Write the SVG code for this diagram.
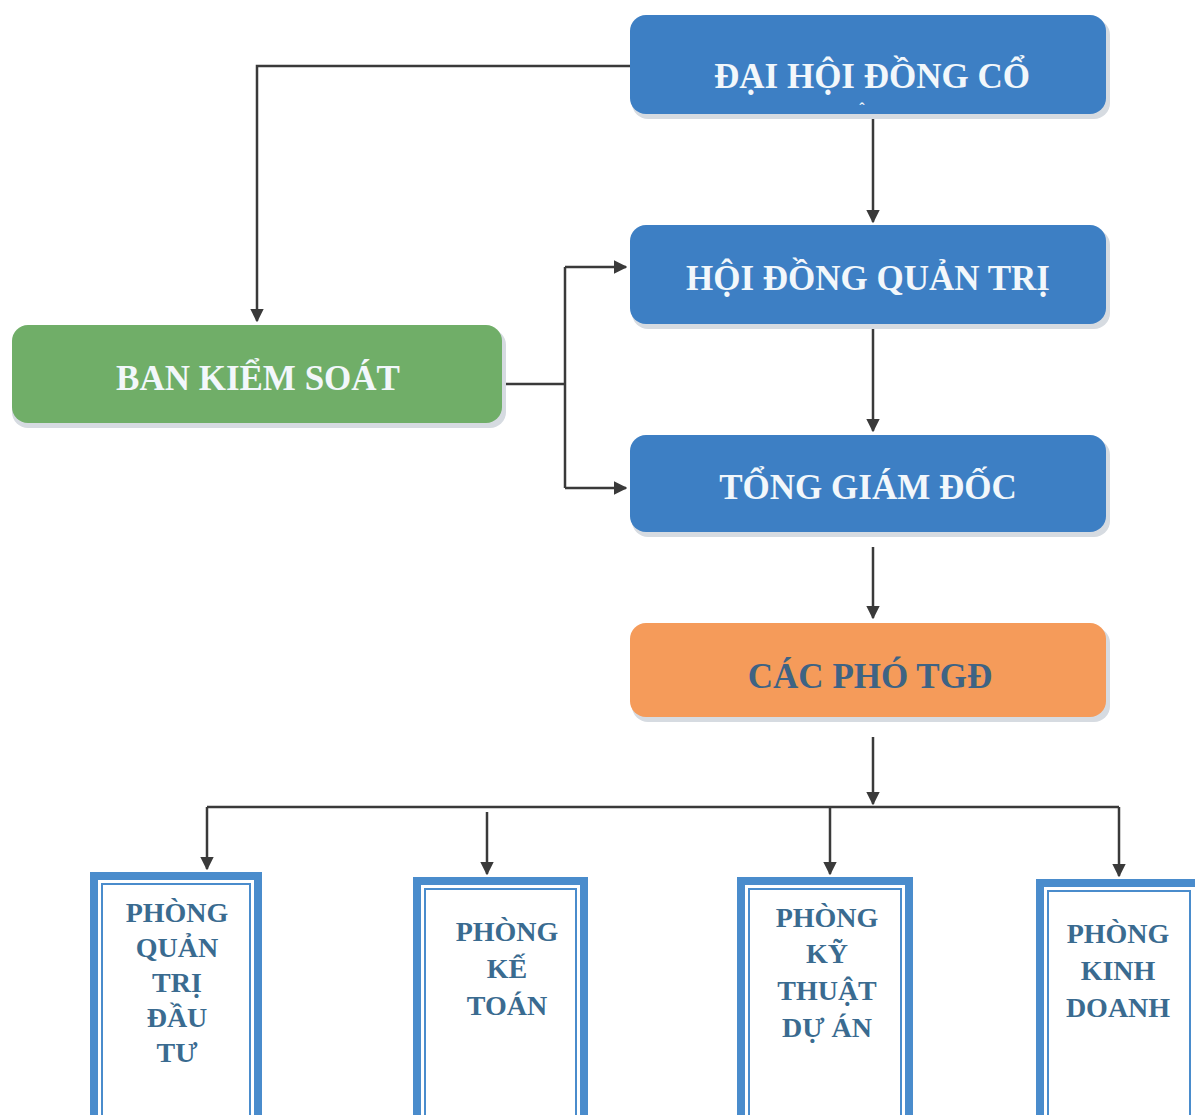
<svg xmlns="http://www.w3.org/2000/svg" width="1195" height="1115" viewBox="0 0 1195 1115">
<defs>
<style>
.t{font-family:"Liberation Serif","Times New Roman",serif;font-weight:bold;text-anchor:middle}
.w{fill:#f2f7fb;font-size:35px}
.o{fill:#3e6384;font-size:35px}
.d{fill:#3a6b90;font-size:28px}
.sh{fill:#d6dbe1}
.blue{fill:#3d7fc4}
.green{fill:#70ae68}
.orange{fill:#f59b5a}
.c{fill:none;stroke:#3a3a3a;stroke-width:2.5}
.ob{fill:#ffffff;stroke:#4a8ccc;stroke-width:8}
.ib{fill:none;stroke:#4a8ccc;stroke-width:2}
</style>
<marker id="ar" viewBox="0 0 10 10" refX="9" refY="5" markerWidth="5.5" markerHeight="5.5" orient="auto" markerUnits="strokeWidth">
<path d="M0,0 L10,5 L0,10 z" fill="#3a3a3a"/>
</marker>
</defs>
<rect width="1195" height="1115" fill="#ffffff"/>

<g id="connectors">
<path class="c" d="M630,66 H257 V321" marker-end="url(#ar)"/>
<path class="c" d="M873,118 V222" marker-end="url(#ar)"/>
<path class="c" d="M873,328 V431" marker-end="url(#ar)"/>
<path class="c" d="M503,384 H565"/>
<path class="c" d="M565,267 V488"/>
<path class="c" d="M565,267 H626" marker-end="url(#ar)"/>
<path class="c" d="M565,488 H626" marker-end="url(#ar)"/>
<path class="c" d="M873,547 V618" marker-end="url(#ar)"/>
<path class="c" d="M873,737 V804" marker-end="url(#ar)"/>
<path class="c" d="M207,807 H1119"/>
<path class="c" d="M207,807 V869" marker-end="url(#ar)"/>
<path class="c" d="M487,812 V874" marker-end="url(#ar)"/>
<path class="c" d="M830,808 V874" marker-end="url(#ar)"/>
<path class="c" d="M1119,807 V876" marker-end="url(#ar)"/>
</g>

<g id="n-dhdcd">
<rect class="sh" x="632" y="19" width="478" height="100" rx="16"/>
<rect class="blue" x="630" y="15" width="476" height="99" rx="16"/>
<text class="t w" x="872" y="88">ĐẠI HỘI ĐỒNG CỔ</text>
<text class="t w" x="862" y="114" style="font-size:16px">ˆ</text>
</g>

<g id="n-hdqt">
<rect class="sh" x="632" y="229" width="478" height="100" rx="16"/>
<rect class="blue" x="630" y="225" width="476" height="99" rx="16"/>
<text class="t w" x="868" y="290">HỘI ĐỒNG QUẢN TRỊ</text>
</g>

<g id="n-bks">
<rect class="sh" x="12" y="329" width="494" height="99" rx="16"/>
<rect class="green" x="12" y="325" width="490" height="98" rx="16"/>
<text class="t w" x="258" y="390">BAN KIỂM SOÁT</text>
</g>

<g id="n-tgd">
<rect class="sh" x="632" y="439" width="478" height="98" rx="16"/>
<rect class="blue" x="630" y="435" width="476" height="97" rx="16"/>
<text class="t w" x="868" y="499">TỔNG GIÁM ĐỐC</text>
</g>

<g id="n-pho">
<rect class="sh" x="632" y="627" width="478" height="95" rx="16"/>
<rect class="orange" x="630" y="623" width="476" height="94" rx="16"/>
<text class="t o" x="870" y="688">CÁC PHÓ TGĐ</text>
</g>

<g id="n-qtdt">
<rect class="ob" x="94" y="876" width="164" height="250"/>
<rect class="ib" x="102" y="884" width="148" height="234"/>
<text class="t d" x="177" y="922">PHÒNG</text>
<text class="t d" x="177" y="957">QUẢN</text>
<text class="t d" x="177" y="992">TRỊ</text>
<text class="t d" x="177" y="1027">ĐẦU</text>
<text class="t d" x="177" y="1062">TƯ</text>
</g>

<g id="n-kt">
<rect class="ob" x="417" y="881" width="167" height="245"/>
<rect class="ib" x="425" y="889" width="151" height="229"/>
<text class="t d" x="507" y="941">PHÒNG</text>
<text class="t d" x="507" y="978">KẾ</text>
<text class="t d" x="507" y="1015">TOÁN</text>
</g>

<g id="n-ktda">
<rect class="ob" x="741" y="881" width="168" height="245"/>
<rect class="ib" x="749" y="889" width="152" height="229"/>
<text class="t d" x="827" y="927">PHÒNG</text>
<text class="t d" x="827" y="963">KỸ</text>
<text class="t d" x="827" y="1000">THUẬT</text>
<text class="t d" x="827" y="1037">DỰ ÁN</text>
</g>

<g id="n-kd">
<rect class="ob" x="1040" y="883" width="160" height="242"/>
<rect class="ib" x="1048" y="891" width="142" height="226"/>
<text class="t d" x="1118" y="943">PHÒNG</text>
<text class="t d" x="1118" y="980">KINH</text>
<text class="t d" x="1118" y="1017">DOANH</text>
</g>
</svg>
